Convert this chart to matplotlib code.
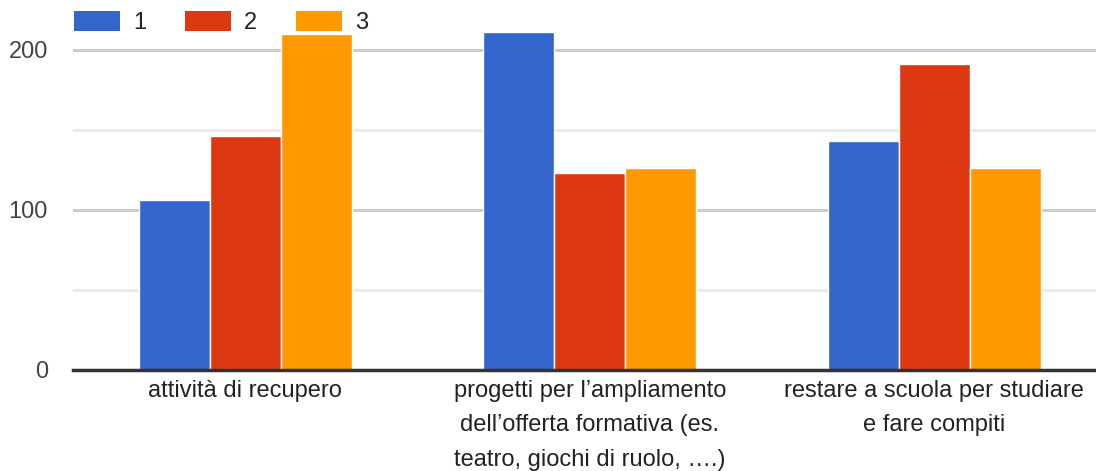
import matplotlib.pyplot as plt
import numpy as np
from matplotlib.patches import Patch

plt.rcParams['font.family'] = ['Liberation Sans', 'DejaVu Sans']

categories = ['attività di recupero',
              'progetti per l’ampliamento\ndell’offerta formativa (es.\nteatro, giochi di ruolo, ….)',
              'restare a scuola per studiare\ne fare compiti']
series_names = ['1', '2', '3']
values_1 = [106, 211, 143]
values_2 = [146, 123, 191]
values_3 = [210, 126, 126]
colors = ['#3366cc', '#dc3912', '#ff9900']

fig = plt.figure(figsize=(10.96, 4.71), dpi=100)
ax = fig.add_axes([73 / 1096, 101 / 471, 1 - 73 / 1096, 352 / 471])

x = np.arange(len(categories))
w = 0.206
for i, vals in enumerate([values_1, values_2, values_3]):
    ax.bar(x + (i - 1) * w, vals, width=w, color=colors[i],
           edgecolor='white', linewidth=1, zorder=3)

ax.set_xlim(-0.5, 2.469)
ax.set_ylim(0, 220)

# griglia: principali a 100/200, secondarie a 50/150
ax.set_yticks([0, 100, 200])
ax.set_yticks([50, 150], minor=True)
ax.grid(axis='y', which='major', color='#cccccc', linewidth=2.2, zorder=0)
ax.grid(axis='y', which='minor', color='#ebebeb', linewidth=2.2, zorder=0)
ax.tick_params(axis='y', which='both', length=0, pad=18, labelsize=17, labelcolor='#444444')

ax.set_xticks(x)
ax.set_xticklabels(categories, fontsize=17, color='#222222', linespacing=1.75, va='top')
ax.tick_params(axis='x', length=0, pad=7)

for s in ['top', 'right', 'left']:
    ax.spines[s].set_visible(False)
ax.spines['bottom'].set_color('#333333')
ax.spines['bottom'].set_linewidth(2.5)
ax.spines['bottom'].set_zorder(4)

handles = [Patch(facecolor=c, edgecolor='none') for c in colors]
fig.legend(handles, series_names, loc='upper left', bbox_to_anchor=(74 / 1096, 1 - 11 / 471),
           ncol=3, frameon=False, fontsize=17, handlelength=1.95, handleheight=0.95,
           handletextpad=0.55, columnspacing=1.65, labelcolor='#222222',
           borderpad=0, borderaxespad=0)

fig.savefig('out.png', dpi=100)
